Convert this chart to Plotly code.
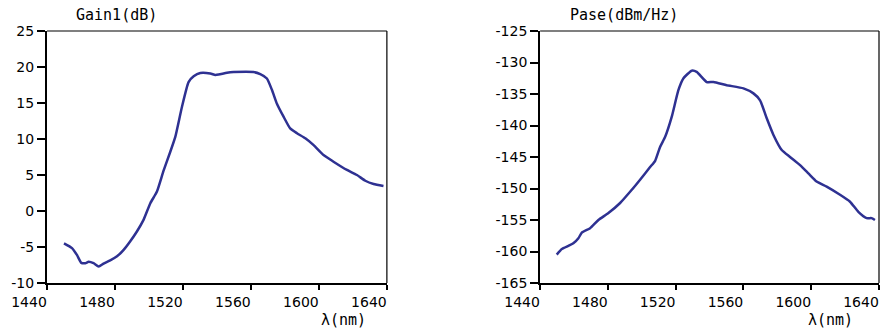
import plotly.graph_objects as go

# ---- data ----
gain_wl = [1450, 1454.7, 1457.6, 1460.2, 1462.5, 1464.5, 1467.4, 1470.4, 1473.3, 1477.2,
           1481.2, 1485.1, 1489, 1492.9, 1496.8, 1500.8, 1504.7, 1508.6, 1512.5, 1515.5,
           1519.4, 1523.3, 1526.3, 1530.2, 1536.1, 1539, 1541, 1545.9, 1549.8, 1561.5,
           1565.5, 1569.4, 1572.4, 1575.3, 1579.2, 1583.1, 1587.1, 1592, 1596.9, 1602.7,
           1608.6, 1616.5, 1622.4, 1627.3, 1632.2, 1638]
gain_db = [-4.5, -5.15, -6.1, -7.2, -7.25, -7.05, -7.25, -7.7, -7.3, -6.87,
           -6.3, -5.4, -4.2, -2.85, -1.23, 1.08, 2.7, 5.6, 8.2, 10.3,
           14.45, 17.9, 18.7, 19.17, 19.1, 18.9, 18.95, 19.2, 19.3, 19.3,
           19.0, 18.4, 16.8, 14.9, 13.1, 11.47, 10.8, 10.1, 9.15, 7.77,
           6.85, 5.7, 5.0, 4.2, 3.75, 3.48]

pase_wl = [1449.8, 1452.8, 1456.7, 1459.6, 1462.6, 1464.6, 1469.5, 1474.4, 1480.3, 1487.2,
           1494.1, 1499, 1504.9, 1507.9, 1510.8, 1513.8, 1517.7, 1521.6, 1524.6, 1529.5,
           1532.4, 1538.3, 1542.3, 1550.1, 1560, 1565.9, 1569.8, 1573.8, 1577.7, 1582.6,
           1587.5, 1593.4, 1598.3, 1603.2, 1609.1, 1617, 1622.9, 1627.8, 1632.7, 1635.6, 1637.6]
pase_dbm = [-160.5, -159.6, -159.1, -158.7, -157.9, -157.0, -156.3, -155.0, -153.9, -152.3,
            -150.2, -148.6, -146.6, -145.6, -143.4, -141.8, -138.6, -134.4, -132.5, -131.3,
            -131.5, -133.1, -133.1, -133.6, -134.1, -134.9, -136.0, -138.9, -141.5, -143.9,
            -145.0, -146.3, -147.6, -148.9, -149.7, -151.0, -152.1, -153.7, -154.7, -154.7, -155.0]

x_ticks = [1440, 1480, 1520, 1560, 1600, 1640]
x_ticktext = ["1440", "1480", "1520", "1560", "1600", "1640"]
gain_ticks = [-10, -5, 0, 5, 10, 15, 20, 25]
gain_ticktext = ["-10", "-5", "0", "5", "10", "15", "20", "25"]
pase_ticks = [-165, -160, -155, -150, -145, -140, -135, -130, -125]
pase_ticktext = ["-165", "-160", "-155", "-150", "-145", "-140", "-135", "-130", "-125"]

title_left = "Gain1(dB)"
title_right = "Pase(dBm/Hz)"
x_label = "λ(nm)"

# ---- figure ----
W, H = 884, 335
ml, mr, mt, mb = 46.7, 5, 30.7, 51.7
pw = W - ml - mr
line_color = "#2E3192"

fig = go.Figure()
fig.add_trace(go.Scatter(x=gain_wl, y=gain_db, mode="lines",
                         line=dict(color=line_color, width=2.5, shape="spline", smoothing=0.5),
                         xaxis="x", yaxis="y", showlegend=False))
fig.add_trace(go.Scatter(x=pase_wl, y=pase_dbm, mode="lines",
                         line=dict(color=line_color, width=2.5, shape="spline", smoothing=0.5),
                         xaxis="x2", yaxis="y2", showlegend=False))

tickfont = dict(family="DejaVu Sans", size=14, color="black")
common_x = dict(range=[1440, 1640], showgrid=False, zeroline=False,
                showline=True, linecolor="black", linewidth=2,
                ticks="outside", ticklen=5, tickwidth=1.5, tickcolor="black",
                tickmode="array", tickvals=x_ticks, ticktext=x_ticktext,
                tickfont=tickfont, ticklabelshift=-18)
common_y = dict(showgrid=False, zeroline=False,
                showline=True, linecolor="black", linewidth=2,
                ticks="outside", ticklen=8, tickwidth=1.5, tickcolor="black",
                tickmode="array", tickfont=tickfont)

d1 = [0, 340 / pw]
d2 = [(540 - ml) / pw, 1]

fig.update_layout(
    width=W, height=H,
    margin=dict(l=ml, r=mr, t=mt, b=mb, autoexpand=False),
    paper_bgcolor="white", plot_bgcolor="white",
    xaxis=dict(domain=d1, anchor="y", **common_x),
    yaxis=dict(domain=[0, 1], anchor="x", range=[-10, 25],
               tickvals=gain_ticks, ticktext=gain_ticktext, **common_y),
    xaxis2=dict(domain=d2, anchor="y2", **common_x),
    yaxis2=dict(domain=[0, 1], anchor="x2", range=[-165, -125],
                tickvals=pase_ticks, ticktext=pase_ticktext, **common_y),
)

# top / right frame lines (thinner)
for xr, yr in (("x domain", "y domain"), ("x2 domain", "y2 domain")):
    fig.add_shape(type="line", xref=xr, yref=yr, x0=0, x1=1, y0=1, y1=1,
                  line=dict(color="black", width=1.2))
    fig.add_shape(type="line", xref=xr, yref=yr, x0=1, x1=1, y0=0, y1=1,
                  line=dict(color="black", width=1.2))

mono = dict(family="DejaVu Sans Mono", size=15, color="black")
fig.add_annotation(text=title_left, xref="x domain", yref="y domain",
                   x=(73.3 - 46.7) / 340, y=1 + 16.5 / 252.6,
                   xanchor="left", yanchor="middle", showarrow=False, font=mono)
fig.add_annotation(text=title_right, xref="x2 domain", yref="y2 domain",
                   x=(568.3 - 540) / 339, y=1 + 16.5 / 252.6,
                   xanchor="left", yanchor="middle", showarrow=False, font=mono)
fig.add_annotation(text=x_label, xref="x domain", yref="y domain",
                   x=(343 - 46.7) / 340, y=-36.7 / 252.6,
                   xanchor="center", yanchor="middle", showarrow=False, font=mono)
fig.add_annotation(text=x_label, xref="x2 domain", yref="y2 domain",
                   x=(830 - 540) / 339, y=-36.7 / 252.6,
                   xanchor="center", yanchor="middle", showarrow=False, font=mono)

fig.write_html("out.html", config={"displayModeBar": False},
               post_script="document.body.style.margin='0px';document.body.style.overflow='hidden';")
